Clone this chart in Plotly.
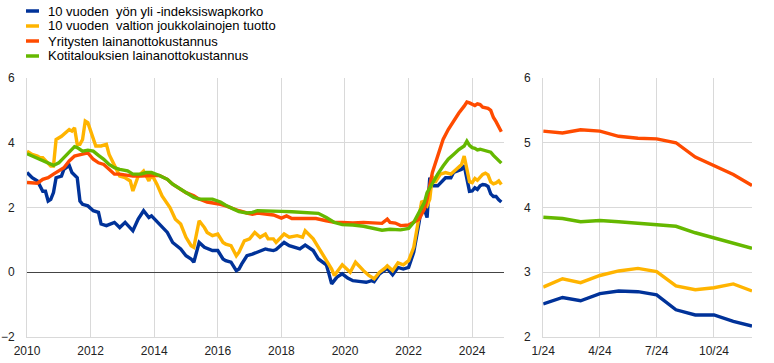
import plotly.graph_objects as go

names = ["10 vuoden\u00a0 yön yli -indeksiswapkorko",
         "10 vuoden\u00a0 valtion joukkolainojen tuotto",
         "Yritysten lainanottokustannus",
         "Kotitalouksien lainanottokustannus"]
colors = ["#003299", "#ffb400", "#ff4b00", "#65b800"]

months_2024 = ["2024-%02d-01" % m for m in range(1, 13)]
ois_2024 = [2.51, 2.61, 2.56, 2.67, 2.71, 2.70, 2.65, 2.42, 2.34, 2.34, 2.24, 2.17]
gov_2024 = [2.77, 2.90, 2.84, 2.95, 3.02, 3.06, 3.01, 2.79, 2.73, 2.76, 2.82, 2.71]
nfc_2024 = [5.18, 5.15, 5.20, 5.18, 5.10, 5.07, 5.06, 5.00, 4.78, 4.65, 4.51, 4.34]
hh_2024 = [3.85, 3.83, 3.78, 3.80, 3.78, 3.76, 3.74, 3.71, 3.61, 3.53, 3.44, 3.37]

ois_dates = ["2010-01", "2010-03", "2010-05", "2010-07", "2010-08", "2010-09", "2010-10", "2010-11", "2010-12",
             "2011-02", "2011-03", "2011-05", "2011-06", "2011-08", "2011-09", "2011-10", "2011-12",
             "2012-02", "2012-04", "2012-05", "2012-07", "2012-10", "2012-12",
             "2013-02", "2013-05", "2013-07", "2013-09", "2013-11", "2013-12",
             "2014-03", "2014-06", "2014-08", "2014-11",
             "2015-01", "2015-03", "2015-04", "2015-06", "2015-08", "2015-10", "2015-11",
             "2016-01", "2016-03", "2016-04", "2016-06", "2016-08", "2016-09", "2016-10", "2016-12",
             "2017-02", "2017-05", "2017-07", "2017-08", "2017-10", "2017-11",
             "2018-02", "2018-04", "2018-08", "2018-10",
             "2019-01", "2019-03", "2019-06", "2019-07", "2019-08", "2019-10", "2019-12",
             "2020-02", "2020-04", "2020-07", "2020-09", "2020-11", "2020-12",
             "2021-02", "2021-04", "2021-05", "2021-07", "2021-09", "2021-11",
             "2022-01", "2022-03", "2022-04", "2022-05", "2022-06", "2022-07", "2022-08", "2022-09", "2022-10", "2022-12",
             "2023-03", "2023-05", "2023-06", "2023-09", "2023-10", "2023-11", "2023-12"]
ois_vals = [3.08, 2.92, 2.82, 2.50, 2.50, 2.20, 2.25, 2.46, 2.92,
            2.97, 3.18, 3.30, 3.08, 2.92, 2.20, 2.10, 2.05,
            1.90, 1.85, 1.49, 1.44, 1.54, 1.38,
            1.54, 1.28, 1.64, 1.90, 1.69, 1.74,
            1.49, 1.23, 0.92, 0.72,
            0.51, 0.41, 0.31, 0.92, 0.77, 0.72, 0.67,
            0.67, 0.41, 0.36, 0.31, 0.05, 0.10, 0.25, 0.51,
            0.56, 0.67, 0.72, 0.70, 0.67, 0.70,
            0.92, 0.82, 0.72, 0.84,
            0.67, 0.41, 0.23, -0.05, -0.36, -0.15, -0.05,
            -0.18, -0.26, -0.29, -0.31, -0.26, -0.29,
            -0.05, 0.07, 0.12, -0.08, 0.15, 0.10,
            0.15, 0.62, 1.03, 1.54, 2.10, 1.95, 1.69, 2.92, 2.67, 2.67,
            2.92, 2.92, 3.08, 3.18, 3.30, 2.90, 2.50]

gov_dates = ["2010-01", "2010-03", "2010-05", "2010-06", "2010-07", "2010-09", "2010-10", "2010-11", "2010-12",
             "2011-02", "2011-05", "2011-06", "2011-07", "2011-08", "2011-09", "2011-10", "2011-11", "2011-12",
             "2012-01", "2012-03", "2012-05", "2012-07", "2012-08", "2012-10", "2012-12",
             "2013-02", "2013-04", "2013-05", "2013-07", "2013-09", "2013-11", "2013-12",
             "2014-02", "2014-04", "2014-07", "2014-09", "2014-11",
             "2015-01", "2015-03", "2015-04", "2015-06", "2015-08", "2015-09", "2015-11",
             "2016-01", "2016-03", "2016-04", "2016-06", "2016-08", "2016-09", "2016-11",
             "2017-01", "2017-03", "2017-05", "2017-07", "2017-08", "2017-10", "2017-11",
             "2018-02", "2018-04", "2018-07", "2018-09", "2018-10",
             "2019-01", "2019-03", "2019-06", "2019-08", "2019-09", "2019-11", "2019-12",
             "2020-03", "2020-05", "2020-08", "2020-10", "2020-12",
             "2021-02", "2021-04", "2021-05", "2021-07", "2021-09", "2021-11",
             "2022-01", "2022-03", "2022-05", "2022-06", "2022-08", "2022-09", "2022-10", "2022-11",
             "2023-01", "2023-03", "2023-05", "2023-07", "2023-09", "2023-10", "2023-11", "2023-12"]
gov_vals = [3.74, 3.64, 3.59, 3.54, 3.54, 3.38, 3.28, 3.28, 4.10,
            4.20, 4.41, 4.36, 4.46, 3.95, 3.95, 4.10, 4.67, 4.62,
            4.36, 3.90, 3.90, 3.95, 3.64, 3.28, 2.97,
            2.92, 2.82, 2.51, 2.97, 3.13, 2.82, 3.03,
            2.72, 2.36, 2.00, 1.64, 1.49,
            1.08, 0.82, 0.77, 1.59, 1.38, 1.23, 1.13,
            1.18, 0.92, 0.87, 0.82, 0.51, 0.62, 0.97,
            1.03, 1.23, 1.08, 1.18, 1.03, 1.03, 0.92,
            1.18, 1.08, 1.13, 1.08, 1.28,
            1.03, 0.77, 0.41, 0.10, -0.10, 0.15, 0.23,
            0.00, 0.31, 0.05, -0.10, -0.20,
            0.00, 0.12, 0.20, 0.05, 0.29, 0.23,
            0.36, 0.77, 1.64, 2.20, 2.05, 2.26, 2.97, 2.77,
            3.03, 3.08, 3.03, 3.18, 3.33, 3.59, 3.20, 2.80]

nfc_dates = ["2010-01", "2010-03", "2010-05", "2010-07", "2010-09", "2010-11",
             "2011-01", "2011-03", "2011-05", "2011-07", "2011-08", "2011-10", "2011-12",
             "2012-02", "2012-04", "2012-06", "2012-08", "2012-10", "2012-12",
             "2013-03", "2013-05", "2013-08", "2013-10", "2013-12",
             "2014-03", "2014-06", "2014-08", "2014-11",
             "2015-01", "2015-04", "2015-06", "2015-09", "2015-11",
             "2016-02", "2016-04", "2016-07", "2016-09", "2016-12",
             "2017-02", "2017-04", "2017-07", "2017-10",
             "2018-01", "2018-03", "2018-05", "2018-10",
             "2019-02", "2019-06", "2019-09", "2019-12",
             "2020-04", "2020-08", "2020-12",
             "2021-03", "2021-05", "2021-06", "2021-08", "2021-10",
             "2022-01", "2022-03", "2022-05", "2022-07", "2022-08", "2022-10", "2022-12",
             "2023-02", "2023-04", "2023-06", "2023-08", "2023-10", "2023-11", "2023-12"]
nfc_vals = [2.77, 2.77, 2.75, 2.87, 2.92, 3.03,
            3.13, 3.23, 3.44, 3.59, 3.61, 3.64, 3.69,
            3.49, 3.38, 3.33, 3.18, 3.03, 3.03,
            2.99, 2.97, 2.97, 2.99, 2.99,
            2.99, 2.87, 2.72, 2.56,
            2.46, 2.36, 2.26, 2.17, 2.15,
            2.10, 2.05, 1.95, 1.90, 1.83,
            1.79, 1.83, 1.79, 1.77,
            1.67, 1.74, 1.66, 1.66,
            1.66, 1.59, 1.54, 1.54,
            1.52, 1.54, 1.51,
            1.51, 1.64, 1.54, 1.52, 1.44,
            1.46, 1.54, 1.64, 1.95, 2.26, 3.08, 3.59,
            4.10, 4.41, 4.67, 4.92, 5.13, 5.26, 5.23]

hh_dates = ["2010-01", "2010-03", "2010-05", "2010-07", "2010-09", "2010-11",
            "2011-01", "2011-03", "2011-05", "2011-07", "2011-08", "2011-10", "2011-12",
            "2012-02", "2012-04", "2012-06", "2012-08", "2012-10", "2012-12",
            "2013-03", "2013-05", "2013-08", "2013-10", "2013-12",
            "2014-03", "2014-06", "2014-08", "2014-11",
            "2015-01", "2015-04", "2015-06", "2015-09", "2015-11",
            "2016-02", "2016-04", "2016-07", "2016-09", "2016-12",
            "2017-02", "2017-04", "2017-08",
            "2018-01", "2018-05", "2018-10",
            "2019-03", "2019-06", "2019-09", "2019-12",
            "2020-04", "2020-08", "2020-12",
            "2021-03", "2021-06", "2021-10",
            "2022-01", "2022-03", "2022-05", "2022-07", "2022-08", "2022-10", "2022-12",
            "2023-02", "2023-04", "2023-06", "2023-08", "2023-10", "2023-11", "2023-12"]
hh_vals = [3.66, 3.59, 3.52, 3.44, 3.38, 3.30,
           3.38, 3.54, 3.74, 3.88, 3.85, 3.74, 3.77,
           3.74, 3.61, 3.49, 3.33, 3.23, 3.18,
           3.13, 3.03, 3.03, 3.08, 3.08,
           2.99, 2.87, 2.72, 2.56,
           2.46, 2.31, 2.26, 2.26, 2.26,
           2.17, 2.07, 1.95, 1.87, 1.83,
           1.85, 1.90, 1.90,
           1.88, 1.87, 1.85,
           1.82, 1.69, 1.54, 1.47,
           1.46, 1.42, 1.35,
           1.30, 1.33, 1.31,
           1.35, 1.54, 1.85, 2.15, 2.46, 2.77, 3.03,
           3.28, 3.49, 3.64, 3.79, 3.90, 4.05, 3.92]

left_x = [ois_dates, gov_dates, nfc_dates, hh_dates]
left_y = [ois_vals, gov_vals, nfc_vals, hh_vals]
right_y = [ois_2024, gov_2024, nfc_2024, hh_2024]

fig = go.Figure()
for i in range(4):
    xs = [d + "-01" for d in left_x[i]] + months_2024
    ys = left_y[i] + right_y[i]
    fig.add_trace(go.Scatter(x=xs, y=ys, mode="lines", name=names[i],
                             line=dict(color=colors[i], width=3.4),
                             xaxis="x", yaxis="y", showlegend=False))
for i in range(4):
    fig.add_trace(go.Scatter(x=months_2024, y=right_y[i], mode="lines", name=names[i],
                             line=dict(color=colors[i], width=3.4),
                             xaxis="x2", yaxis="y2", showlegend=False))

W, H = 774, 363
L, R, T, B = 27, 22, 78, 26
pw, ph = W - L - R, H - T - B

# Legend drawn as short lines + text (compact line spacing as in the reference)
legend_rows_px = [11, 26, 41, 56]
shapes, annotations = [], []
for i, py in enumerate(legend_rows_px):
    yp = (H - B - py) / ph
    shapes.append(dict(type="line", xref="paper", yref="paper",
                       x0=(26 - L) / pw, x1=(39 - L) / pw, y0=yp, y1=yp,
                       line=dict(color=colors[i], width=3.5)))
    annotations.append(dict(xref="paper", yref="paper", x=(46 - L) / pw, y=yp,
                            xanchor="left", yanchor="middle", showarrow=False,
                            text=names[i], font=dict(size=13, color="#000000")))

font = dict(family="Liberation Sans, Arial, sans-serif", size=12, color="#222222")
grid = "#d9d9d9"
fig.update_layout(
    width=W, height=H,
    margin=dict(l=L, r=R, t=T, b=B, autoexpand=False),
    paper_bgcolor="white", plot_bgcolor="white",
    font=font,
    showlegend=False,
    shapes=shapes, annotations=annotations,
    xaxis=dict(domain=[0, 0.658], type="date", range=["2010-01-01", "2025-01-01"],
               dtick="M24", tick0="2010-01-01", tickformat="%Y",
               showgrid=True, gridcolor=grid, gridwidth=1,
               showline=True, linecolor=grid, ticks="", zeroline=False,
               ticklabelstandoff=3),
    yaxis=dict(domain=[0, 1], range=[-2, 6], dtick=2, showgrid=True, gridcolor=grid,
               zeroline=True, zerolinecolor="#444444", zerolinewidth=1,
               showline=True, linecolor=grid, ticks="", ticklabelstandoff=9),
    xaxis2=dict(domain=[0.712, 1], anchor="y2", type="date",
                range=["2024-01-01", "2024-12-01"],
                tickvals=["2024-01-01", "2024-04-01", "2024-07-01", "2024-10-01"],
                ticktext=["1/24", "4/24", "7/24", "10/24"],
                showgrid=True, gridcolor=grid, showline=True, linecolor=grid,
                ticks="", zeroline=False, ticklabelstandoff=3),
    yaxis2=dict(domain=[0, 1], anchor="x2", range=[2, 6], dtick=1, showgrid=True,
                gridcolor=grid, showline=True, linecolor=grid, ticks="", zeroline=False,
                ticklabelstandoff=9),
)
# remove the default 8px page margin so the figure fills the window exactly
fig.write_html("out.html", config={"displayModeBar": False},
               post_script="document.body.style.margin='0px';document.body.style.overflow='hidden';")
